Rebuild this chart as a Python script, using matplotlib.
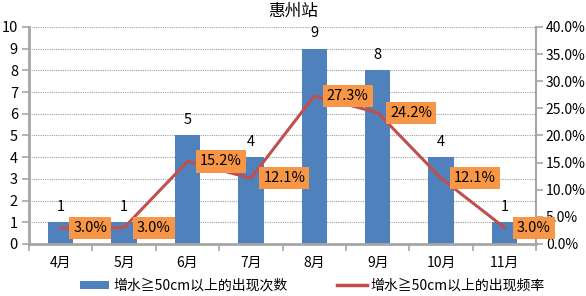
import numpy as np
import matplotlib.pyplot as plt
from matplotlib.lines import Line2D
from matplotlib.patches import Patch

plt.rcParams['font.family'] = ['Noto Sans CJK SC', 'DejaVu Sans']

months = ["4月", "5月", "6月", "7月", "8月", "9月", "10月", "11月"]
counts = [1, 1, 5, 4, 9, 8, 4, 1]
freq = [3.0, 3.0, 15.2, 12.1, 27.3, 24.2, 12.1, 3.0]
title = "惠州站"
bar_label = "增水≧50cm以上的出现次数"
line_label = "增水≧50cm以上的出现频率"

bar_color = "#4F81BD"
line_color = "#C0504D"
box_color = "#F79646"
axis_gray = "#A6A6A6"

fig = plt.figure(figsize=(5.86, 2.96), dpi=100)
ax = fig.add_axes([0.0495, 0.176, 0.8655, 0.733])
ax2 = ax.twinx()

x = np.arange(len(months))
ax.bar(x, counts, width=0.4, color=bar_color, zorder=2)
ax.set_xlim(-0.5, len(months) - 0.5)
ax.set_ylim(0, 10)
ax.set_yticks(range(0, 11))
ax.grid(axis="y", linestyle=(0, (1, 1)), color="#A0A0A0", linewidth=0.8, zorder=0)
ax.set_axisbelow(True)

ax.set_xticks(x)
ax.set_xticklabels(months, fontsize=10)
ax.set_xticks(np.arange(-0.5, len(months)), minor=True)
ax.tick_params(axis="x", which="major", length=0, pad=9)
ax.tick_params(axis="x", which="minor", length=5, width=1.2, color=axis_gray)
ax.tick_params(axis="y", length=5, width=1.2, color=axis_gray, labelsize=10.5, pad=3)

for c, v in zip(x, counts):
    ax.annotate(str(v), (c, v), xytext=(0, 6), textcoords="offset points",
                ha="center", va="bottom", fontsize=10.5)

ax2.plot(x, freq, color=line_color, linewidth=2.2, zorder=3)
ax2.set_ylim(0, 40)
ax2.set_yticks(range(0, 41, 5))
ax2.set_yticklabels([f"{v:.1f}%" for v in range(0, 41, 5)])
ax2.tick_params(axis="y", length=5, width=1.2, color=axis_gray, labelsize=10, pad=2)

for c, v in zip(x, freq):
    ax2.annotate(f"{v:.1f}%", (c, v), xytext=(9, 0), textcoords="offset points",
                 ha="left", va="center", fontsize=10.5, zorder=5,
                 bbox=dict(boxstyle="square,pad=0.28", fc=box_color, ec="none"))

for a in (ax, ax2):
    a.spines["top"].set_visible(False)
ax.spines["right"].set_visible(False)
ax2.spines["left"].set_visible(False)
ax2.spines["bottom"].set_visible(False)
ax.spines["left"].set_color(axis_gray)
ax.spines["left"].set_linewidth(2)
ax.spines["bottom"].set_color(axis_gray)
ax.spines["bottom"].set_linewidth(2)
ax2.spines["right"].set_color(axis_gray)
ax2.spines["right"].set_linewidth(1.5)

fig.text(0.5, 0.962, title, ha="center", va="center", fontsize=12)

handles = [Patch(facecolor=bar_color, label=bar_label),
           Line2D([0], [0], color=line_color, linewidth=2.5, label=line_label)]
fig.legend(handles=handles, loc="center", bbox_to_anchor=(0.533, 0.035), ncol=2,
           frameon=False, fontsize=10, handlelength=2.1, handleheight=0.5,
           columnspacing=3.6, handletextpad=0.3)

fig.savefig("out.png", dpi=100)
